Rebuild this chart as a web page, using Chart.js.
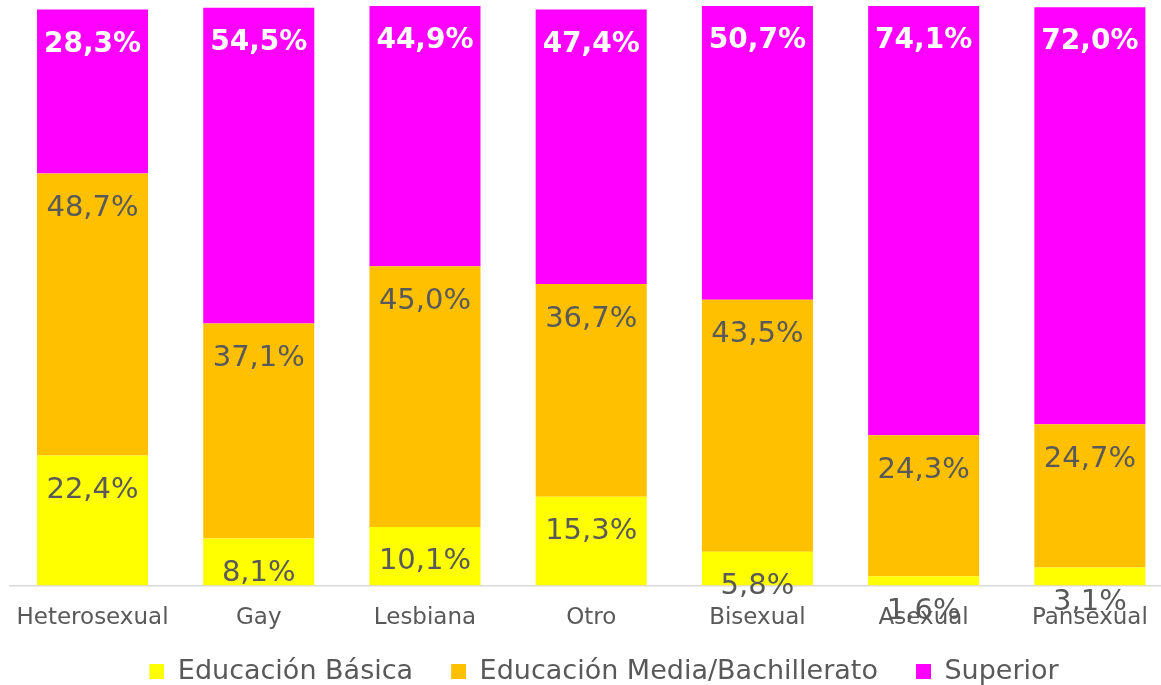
<!DOCTYPE html>
<html>
<head>
<meta charset="utf-8">
<script src="https://cdn.jsdelivr.net/npm/chart.js@4"></script>
<style>
  html, body { margin: 0; padding: 0; background: #fff; overflow: hidden; }
  #wrap { width: 1178px; height: 695px; position: relative; margin-left: -3px; }
</style>
</head>
<body>
<div id="wrap"><canvas id="eduChart"></canvas></div>
<script>
// Nivel educativo por orientación sexual
const categories = ['Heterosexual', 'Gay', 'Lesbiana', 'Otro', 'Bisexual', 'Asexual', 'Pansexual'];
const basica = [22.4, 8.1, 10.1, 15.3, 5.8, 1.6, 3.1];
const media = [48.7, 37.1, 45.0, 36.7, 43.5, 24.3, 24.7];
const superior = [28.3, 54.5, 44.9, 47.4, 50.7, 74.1, 72.0];
const seriesNames = ['Educación Básica', 'Educación Media/Bachillerato', 'Superior'];
const colores = ['#FFFF00', '#FFC000', '#FF00FF'];

const FONT = "'DejaVu Sans', sans-serif";
const GRIS = '#595959';
const SWATCH_W = 46;

// cuadrito de la leyenda, pegado a la derecha para dejar aire antes
function swatch(color) {
    const c = document.createElement('canvas');
    c.width = SWATCH_W;
    c.height = 15;
    const g = c.getContext('2d');
    g.fillStyle = color;
    g.fillRect(SWATCH_W - 15, 0, 15, 15);
    return c;
}

// etiquetas de valor dentro de cada segmento, cerca del borde superior
const valueLabels = {
    id: 'valueLabels',
    afterDatasetsDraw(chart) {
        const ctx = chart.ctx;
        ctx.save();
        ctx.textAlign = 'center';
        ctx.textBaseline = 'middle';
        chart.data.datasets.forEach((ds, i) => {
            const meta = chart.getDatasetMeta(i);
            const isTop = i === 2;
            ctx.fillStyle = isTop ? '#ffffff' : GRIS;
            ctx.font = isTop ? 'bold 28px ' + FONT : '29px ' + FONT;
            meta.data.forEach((bar, j) => {
                const txt = ds.data[j].toFixed(1).replace('.', ',') + '%';
                ctx.fillText(txt, bar.x, bar.y + 35);
            });
        });
        ctx.restore();
    }
};

new Chart(document.getElementById('eduChart'), {
    type: 'bar',
    data: {
        labels: categories,
        datasets: [
            { label: seriesNames[0], data: basica, backgroundColor: colores[0], pointStyle: swatch(colores[0]) },
            { label: seriesNames[1], data: media, backgroundColor: colores[1], pointStyle: swatch(colores[1]) },
            { label: seriesNames[2], data: superior, backgroundColor: colores[2], pointStyle: swatch(colores[2]) }
        ]
    },
    options: {
        responsive: true,
        maintainAspectRatio: false,
        animation: false,
        datasets: {
            bar: { categoryPercentage: 1, barPercentage: 0.668 }
        },
        layout: { padding: { left: 7, right: 2, top: 6, bottom: 0 } },
        scales: {
            x: {
                stacked: true,
                grid: { display: false, drawTicks: false },
                border: { display: true, color: '#d9d9d9', width: 1.5 },
                ticks: { color: GRIS, font: { family: FONT, size: 23 }, padding: 19 }
            },
            y: {
                stacked: true,
                display: false,
                min: 0,
                max: 100
            }
        },
        plugins: {
            legend: {
                position: 'bottom',
                labels: {
                    color: GRIS,
                    font: { family: FONT, size: 27 },
                    usePointStyle: true,
                    pointStyleWidth: SWATCH_W,
                    boxHeight: 15,
                    padding: 7
                }
            },
            tooltip: { enabled: false }
        }
    },
    plugins: [valueLabels]
});
</script>
</body>
</html>
